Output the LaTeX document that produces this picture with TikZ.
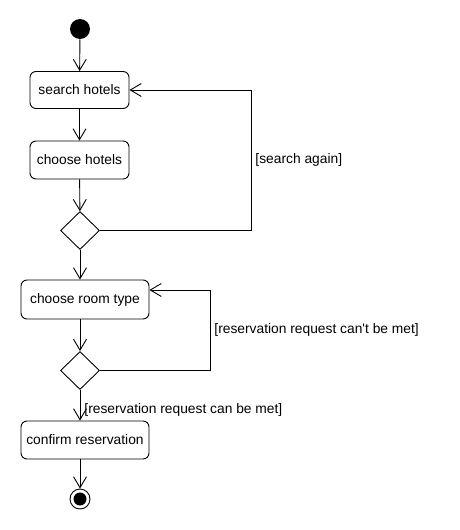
\documentclass[tikz,border=0pt]{standalone}
\usepackage{fontspec}
\setmainfont{Liberation Sans}
\usetikzlibrary{shapes.geometric,arrows.meta}
\tikzset{
  act/.style={shape=rectangle, rounded corners=6pt, draw, align=center, inner sep=2pt, font=\fontsize{13.8}{16}\selectfont},
  dec/.style={shape=diamond, draw, inner sep=0pt, minimum width=39pt, minimum height=38pt},
  guard/.style={font=\fontsize{13.8}{16}\selectfont, inner sep=4pt},
}
\begin{document}
\begin{tikzpicture}[x=1pt, y=-1pt, line width=0.9pt, >={Straight Barb[length=11pt,width=13pt]}]
\useasboundingbox (0,0) rectangle (460,530);

\node[shape=circle, fill=black, minimum size=20pt, inner sep=0pt] (n1) at (80,29) {};
\node[act, minimum width=99pt, minimum height=37pt] (n2) at (79.5,90) {search hotels};
\node[act, minimum width=99pt, minimum height=38pt] (n3) at (79.5,160) {choose hotels};
\node[dec] (n4) at (80,230.5) {};
\node[act, minimum width=128pt, minimum height=39pt] (n5) at (85,299.5) {choose room type};
\node[dec] (n6) at (80,370.5) {};
\node[act, minimum width=128pt, minimum height=38pt] (n7) at (85,440) {confirm reservation};
\node[shape=circle, draw, minimum size=20pt, inner sep=0pt, path picture={\fill (path picture bounding box.center) circle (6.5pt);}] (n8) at (80,499) {};
\coordinate (k1) at (251,90);
\coordinate (k2) at (210,290);
\draw[->] (n1) -- (n2);
\draw[->] (n2) -- (n3);
\draw[->] (n3) -- (n4);
\draw[->] (n4) -| (k1) node[guard, pos=0.75, right] {[search again]} -- (n2);
\draw[->] (n4) -- (n4 |- n5.north);
\draw[->] (n5.south -| n6) -- (n6);
\draw[->] (n6) -| (k2) node[guard, pos=0.75, right] {[reservation request can\textquotesingle t be met]} -- (n5.east |- k2);
\draw[->] (n6) -- (n6 |- n7.north) node[guard, anchor=south west] {[reservation request can be met]};
\draw[->] (n7.south -| n8) -- (n8);
\end{tikzpicture}
\end{document}
